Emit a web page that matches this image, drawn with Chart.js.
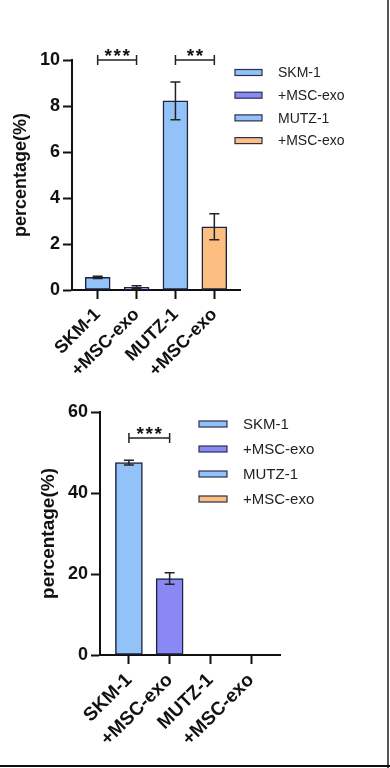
<!DOCTYPE html>
<html>
<head>
<meta charset="utf-8">
<script src="https://cdn.jsdelivr.net/npm/chart.js@4.4.1/dist/chart.umd.min.js"></script>
<style>
html, body { margin: 0; padding: 0; background: #fff; }
#wrap { position: relative; width: 390px; height: 768px; overflow: hidden; }
#c1 { position: absolute; left: 0; top: 0; }
#c2 { position: absolute; left: 0; top: 390px; }
#edgeR { position: absolute; left: 387px; top: 0; width: 2px; height: 768px; background: #555; }
#edgeB { position: absolute; left: 0; top: 765px; width: 390px; height: 2px; background: #111; }
</style>
</head>
<body>
<div id="wrap">
  <canvas id="c1" width="390" height="390"></canvas>
  <canvas id="c2" width="390" height="378"></canvas>
  <div id="edgeR"></div>
  <div id="edgeB"></div>
</div>
<script>
// groups and colours (same in both panels)
var categories = ['SKM-1', '+MSC-exo', 'MUTZ-1', '+MSC-exo'];
var barColors = ['#92C2F7', '#8A88F5', '#92C2F7', '#FDBE82'];
var legendColors = ['#92C2F7', '#8A88F5', '#92C2F7', '#FDBE82'];

// upper panel
var topValues = [0.55, 0.12, 8.22, 2.75];
var topErrors = [0.05, 0.07, 0.82, 0.57];
var topTicks = [0, 2, 4, 6, 8, 10];
var topSig = [[0, 1, '***'], [2, 3, '**']];
var topSigLevel = 10;

// lower panel (MUTZ-1 groups not measured)
var botValues = [47.5, 18.9, null, null];
var botErrors = [0.6, 1.4, 0, 0];
var botTicks = [0, 20, 40, 60];
var botSig = [[0, 1, '***']];
var botSigLevel = 53.6;

var FONT = 'Arial, "Liberation Sans", Helvetica, sans-serif';
var INK = '#111';

var errorBars = {
  id: 'errorBars',
  afterDatasetsDraw: function(chart) {
    var o = chart.options.plugins.errorBars;
    var xs = chart.scales.x, ys = chart.scales.y, ctx = chart.ctx;
    ctx.save();
    ctx.strokeStyle = '#222';
    ctx.lineWidth = 1.5;
    o.values.forEach(function(v, i) {
      if (v == null || !o.errors[i]) return;
      var x = xs.getPixelForValue(i);
      var t = ys.getPixelForValue(v + o.errors[i]);
      var b = ys.getPixelForValue(v - o.errors[i]);
      ctx.beginPath();
      ctx.moveTo(x, t); ctx.lineTo(x, b);
      ctx.moveTo(x - o.cap, t); ctx.lineTo(x + o.cap, t);
      ctx.moveTo(x - o.cap, b); ctx.lineTo(x + o.cap, b);
      ctx.stroke();
    });
    // significance brackets
    o.sig.forEach(function(s) {
      var x1 = xs.getPixelForValue(s[0]), x2 = xs.getPixelForValue(s[1]);
      var y = ys.getPixelForValue(o.sigLevel);
      ctx.beginPath();
      ctx.moveTo(x1, y); ctx.lineTo(x2, y);
      ctx.moveTo(x1, y - 5); ctx.lineTo(x1, y + 5);
      ctx.moveTo(x2, y - 5); ctx.lineTo(x2, y + 5);
      ctx.stroke();
      ctx.fillStyle = INK;
      ctx.font = 'bold 19px ' + FONT;
      ctx.textAlign = 'center';
      ctx.textBaseline = 'alphabetic';
      var n = s[2].length, cx = (x1 + x2) / 2;
      for (var k = 0; k < n; k++) {
        ctx.fillText('*', cx + (k - (n - 1) / 2) * 9, y + 2);
      }
    });
    ctx.restore();
  }
};

var sideLegend = {
  id: 'sideLegend',
  afterDraw: function(chart) {
    var o = chart.options.plugins.sideLegend;
    var ctx = chart.ctx;
    ctx.save();
    ctx.font = o.fontSize + 'px ' + FONT;
    ctx.textBaseline = 'middle';
    ctx.textAlign = 'left';
    categories.forEach(function(c, i) {
      var y = o.y0 + i * o.dy;
      ctx.fillStyle = legendColors[i];
      ctx.fillRect(o.x, y - 3, o.w, 6);
      ctx.strokeStyle = '#2a3050';
      ctx.lineWidth = 1.2;
      ctx.strokeRect(o.x, y - 3, o.w, 6);
      ctx.fillStyle = '#222';
      ctx.fillText(c, o.textX, y + 1);
    });
    ctx.restore();
  }
};

function makeChart(id, values, errors, ticks, sig, sigLevel, L) {
  return new Chart(document.getElementById(id), {
    type: 'bar',
    data: {
      datasets: [{
        data: values.map(function(v, i) { return { x: i, y: v }; }),
        backgroundColor: barColors,
        borderColor: '#1d2340',
        borderWidth: 1.5,
        borderSkipped: false,
        barThickness: L.barW
      }]
    },
    options: {
      responsive: false,
      animation: false,
      layout: { padding: { top: L.top, right: L.right, bottom: 0, left: 0 } },
      plugins: {
        legend: { display: false },
        tooltip: { enabled: false },
        errorBars: { values: values, errors: errors, sig: sig, sigLevel: sigLevel, cap: 5 },
        sideLegend: L.legend
      },
      scales: {
        x: {
          type: 'linear',
          offset: false,
          min: L.xmin,
          max: L.xmax,
          afterBuildTicks: function(s) { s.ticks = categories.map(function(c, i) { return { value: i }; }); },
          afterFit: function(s) { s.height = L.xh; s.paddingLeft = 0; s.paddingRight = 0; },
          ticks: {
            minRotation: 45, maxRotation: 45, autoSkip: false, padding: 5,
            color: INK,
            font: { family: FONT, size: L.xFont, weight: 'bold' },
            callback: function(v) { return categories[v]; }
          },
          grid: { offset: false, drawOnChartArea: false, tickLength: 9, tickColor: INK, tickWidth: 2 },
          border: { color: INK, width: 2 }
        },
        y: {
          min: 0,
          max: ticks[ticks.length - 1],
          afterBuildTicks: function(s) { s.ticks = ticks.map(function(t) { return { value: t }; }); },
          afterFit: function(s) { s.width = L.yw; s.paddingTop = 0; s.paddingBottom = 0; },
          ticks: { color: INK, padding: 3, font: { family: FONT, size: 18, weight: 'bold' } },
          grid: { drawOnChartArea: false, tickLength: 9, tickColor: INK, tickWidth: 2 },
          border: { color: INK, width: 2 },
          title: {
            display: true,
            text: 'percentage(%)',
            color: INK,
            font: { family: FONT, size: L.titleFont, weight: 'bold' },
            padding: { top: L.titlePad, bottom: 0 }
          }
        }
      }
    },
    plugins: [errorBars, sideLegend]
  });
}

makeChart('c1', topValues, topErrors, topTicks, topSig, topSigLevel, {
  barW: 25, top: 60, right: 150, xh: 100, yw: 72, xmin: -0.66, xmax: 3.66,
  xFont: 18, titleFont: 18, titlePad: 10,
  legend: { x: 235, w: 27, textX: 278, y0: 72.5, dy: 22.7, fontSize: 14 }
});

makeChart('c2', botValues, botErrors, botTicks, botSig, botSigLevel, {
  barW: 27, top: 22, right: 110, xh: 113, yw: 100, xmin: -0.71, xmax: 3.71,
  xFont: 19, titleFont: 19, titlePad: 37,
  legend: { x: 199, w: 28, textX: 243, y0: 34, dy: 25, fontSize: 15 }
});
</script>
</body>
</html>
